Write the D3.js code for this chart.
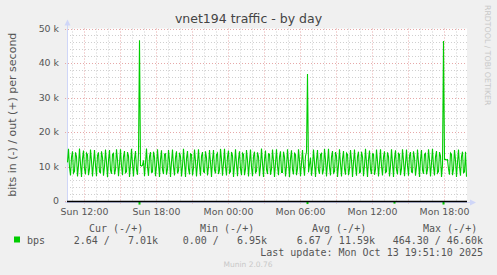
<!DOCTYPE html>
<html>
<head>
<meta charset="utf-8">
<script src="https://cdn.jsdelivr.net/npm/d3@7"></script>
<style>
  html, body { margin: 0; padding: 0; background: #f0f0f0; }
  svg { display: block; font-family: "DejaVu Sans", sans-serif; }
  .mono { font-family: "DejaVu Sans Mono", monospace; white-space: pre; }
</style>
</head>
<body>
<svg id="chart" width="497" height="275"></svg>
<script>
// samples are 5 minutes apart, starting Sun 12 Oct 2025 10:35
const startTime = new Date(2025, 9, 12, 10, 35);
const endTime = new Date(2025, 9, 13, 19, 55);
const stepMinutes = 5;

// out traffic, in kbit/s, one value per sample
const outKbps = [
  11.2, 15.1, 9.8, 7.4, 12.7, 14.4, 8.1, 8.6, 14.1, 12.9, 7.1, 10.3, 15.2, 10.7, 7.0, 12.2, 14.6, 9.3, 7.7, 13.9, 13.4, 7.5, 9.4, 14.9, 11.6, 7.1,
  11.0, 14.8, 10.2, 7.2, 13.1, 14.1, 8.4, 8.2, 14.4, 12.6, 7.3, 10.0, 14.9, 11.1, 6.9, 11.8, 14.8, 9.0, 7.9, 13.5, 13.8, 7.7, 9.1, 15.0, 11.9, 7.2,
  10.8, 15.0, 10.1, 7.5, 12.8, 14.5, 8.2, 8.5, 14.2, 13.0, 7.0, 10.4, 15.1, 10.8, 7.1, 12.1, 14.5, 9.2, 7.6, 13.8, 46.6, 10.3, 10.1, 10.4, 11.8, 7.2,
  11.1, 15.2, 9.9, 7.3, 12.9, 14.2, 8.3, 8.4, 14.3, 12.7, 7.2, 10.2, 15.0, 10.9, 7.0, 12.0, 14.7, 9.1, 7.8, 13.6, 13.7, 7.6, 9.3, 14.8, 11.7, 7.0,
  11.3, 14.9, 10.0, 7.4, 12.6, 14.4, 8.0, 8.7, 14.0, 12.9, 7.1, 10.1, 15.1, 11.0, 6.95, 12.3, 14.5, 9.4, 7.7, 13.7, 13.5, 7.4, 9.5, 14.9, 11.5, 7.1,
  11.0, 15.0, 10.3, 7.3, 13.0, 14.2, 8.5, 8.3, 14.4, 12.5, 7.4, 9.9, 14.8, 11.2, 7.0, 11.9, 14.8, 9.0, 8.0, 13.4, 13.9, 7.8, 9.0, 15.1, 12.0, 7.3,
  10.9, 15.1, 10.0, 7.4, 12.8, 14.6, 8.1, 8.5, 14.2, 13.1, 7.0, 10.3, 15.0, 10.8, 7.2, 12.1, 14.4, 9.3, 7.5, 13.9, 13.5, 7.5, 9.3, 14.8, 11.8, 7.1,
  11.2, 14.9, 9.8, 7.2, 12.9, 14.3, 8.2, 8.6, 14.1, 12.8, 7.2, 10.2, 15.2, 10.9, 7.0, 12.0, 14.6, 9.2, 7.8, 13.7, 13.6, 7.6, 9.2, 14.9, 11.6, 7.0,
  11.1, 15.0, 10.1, 7.5, 12.7, 14.4, 8.3, 8.3, 14.3, 12.7, 7.1, 10.0, 15.0, 11.0, 6.9, 12.2, 14.7, 9.1, 7.7, 13.8, 13.4, 7.5, 9.4, 15.0, 11.7, 7.2,
  10.9, 14.8, 10.2, 7.3, 13.0, 14.2, 36.8, 8.3, 10.5, 12.6, 7.3, 10.1, 14.9, 11.1, 7.0, 11.9, 14.8, 9.0, 7.9, 13.5, 13.8, 7.7, 9.1, 15.1, 11.9, 7.1,
  11.0, 15.1, 9.9, 7.4, 12.8, 14.5, 8.1, 8.5, 14.2, 13.0, 7.0, 10.4, 15.0, 10.7, 7.1, 12.1, 14.5, 9.3, 7.6, 13.9, 13.5, 7.5, 9.3, 14.8, 11.8, 7.0,
  11.2, 14.9, 10.0, 7.3, 12.9, 14.3, 8.2, 8.4, 14.3, 12.8, 7.2, 10.2, 15.1, 10.9, 7.0, 12.0, 14.6, 9.2, 7.8, 13.7, 13.6, 7.6, 9.2, 14.9, 11.6, 7.1,
  11.1, 15.0, 10.1, 7.4, 12.7, 14.4, 8.3, 8.5, 14.1, 12.9, 7.1, 10.1, 15.0, 11.0, 7.0, 12.2, 14.7, 9.1, 7.7, 13.8, 13.5, 7.5, 9.4, 15.0, 11.7, 7.2,
  10.9, 14.9, 10.2, 7.3, 13.0, 14.2, 8.4, 8.3, 14.4, 12.6, 7.3, 10.0, 14.9, 11.1, 7.0, 11.9, 14.8, 9.0, 7.9, 13.5, 13.8, 7.7, 9.1, 15.0, 11.9, 7.1,
  11.0, 15.1, 9.9, 7.4, 12.8, 14.5, 8.1, 8.5, 14.2, 13.0, 7.0, 10.4, 46.4, 12.0, 12.1, 11.9, 12.0, 9.3, 7.6, 13.9, 13.5, 7.5, 9.3, 14.8, 11.8, 7.0,
  11.2, 14.9, 10.0, 7.3, 12.9, 14.3, 8.2, 8.4, 14.3, 7.01
];

// in traffic is ~0 apart from a few blips: [sample index, bit/s]
const inBlips = [[72, 464.3], [240, 310], [327, 180], [376, 450]];

const yTicks = [0, 10000, 20000, 30000, 40000, 50000];
const yTickLabels = ['0', '10 k', '20 k', '30 k', '40 k', '50 k'];

const legendHeaders = ['Cur (-/+)', 'Min (-/+)', 'Avg (-/+)', 'Max (-/+)'];
const legendValues = ['2.64 /   7.01k', '0.00 /   6.95k', '6.67 / 11.59k', '464.30 / 46.60k'];

const fmtTick = d3.timeFormat('%a %H:%M');
const GREEN = '#00cc00';

const svg = d3.select('#chart');
const plot = { left: 67, right: 467, top: 28.5, bottom: 201 };

const x = d3.scaleTime().domain([startTime, endTime]).range([plot.left, plot.right]);
const y = d3.scaleLinear().domain([0, 50000]).range([plot.bottom, plot.top]);
const sampleTime = i => new Date(startTime.getTime() + i * stepMinutes * 60000);

// canvas
svg.append('rect')
  .attr('x', plot.left).attr('y', plot.top)
  .attr('width', plot.right - plot.left).attr('height', plot.bottom - plot.top)
  .attr('fill', '#fff');

// grid: minor then major
const grid = svg.append('g');
const minorY = d3.range(0, 50001, 2000).filter(v => v % 10000 !== 0);
grid.selectAll('.hminor').data(minorY).join('line')
  .attr('x1', plot.left).attr('x2', plot.right)
  .attr('y1', d => Math.round(y(d)) + 0.5).attr('y2', d => Math.round(y(d)) + 0.5)
  .attr('stroke', '#cfcfcf').attr('stroke-dasharray', '1,2');
const hours = x.ticks(d3.timeHour.every(1));
grid.selectAll('.vminor').data(hours.filter(d => d.getHours() % 3 !== 0)).join('line')
  .attr('x1', d => Math.round(x(d)) + 0.5).attr('x2', d => Math.round(x(d)) + 0.5)
  .attr('y1', plot.top).attr('y2', plot.bottom)
  .attr('stroke', '#cfcfcf').attr('stroke-dasharray', '1,2');
grid.selectAll('.hmajor').data(yTicks).join('line')
  .attr('x1', plot.left - 2).attr('x2', plot.right)
  .attr('y1', d => Math.round(y(d)) + 0.5).attr('y2', d => Math.round(y(d)) + 0.5)
  .attr('stroke', '#e6a8a8').attr('stroke-dasharray', '1,2');
grid.selectAll('.vmajor').data(hours.filter(d => d.getHours() % 3 === 0)).join('line')
  .attr('x1', d => Math.round(x(d)) + 0.5).attr('x2', d => Math.round(x(d)) + 0.5)
  .attr('y1', plot.top).attr('y2', plot.bottom + 3)
  .attr('stroke', '#e6a8a8').attr('stroke-dasharray', '1,2');

// axes (rrdtool style, light blue with arrows)
const axisCol = '#cfd6f8';
svg.append('line').attr('x1', plot.left + 0.5).attr('x2', plot.left + 0.5)
  .attr('y1', plot.bottom + 2).attr('y2', plot.top - 6).attr('stroke', axisCol);
svg.append('path').attr('d', `M${plot.left - 2.5},${plot.top - 3}L${plot.left + 0.5},${plot.top - 9}L${plot.left + 3.5},${plot.top - 3}Z`).attr('fill', axisCol);
svg.append('line').attr('x1', plot.left - 2).attr('x2', plot.right + 6)
  .attr('y1', plot.bottom + 1.5).attr('y2', plot.bottom + 1.5).attr('stroke', axisCol);
svg.append('path').attr('d', `M${plot.right + 3},${plot.bottom - 1.5}L${plot.right + 9},${plot.bottom + 1.5}L${plot.right + 3},${plot.bottom + 4.5}Z`).attr('fill', axisCol);

// y tick labels
svg.append('g').selectAll('text').data(yTicks).join('text')
  .attr('x', 59).attr('y', d => y(d) + 3.4)
  .attr('text-anchor', 'end').attr('font-size', 9.4).attr('fill', '#555')
  .text((d, i) => yTickLabels[i]);

// x tick labels every 6 h
svg.append('g').selectAll('text').data(hours.filter(d => d.getHours() % 6 === 0)).join('text')
  .attr('x', d => x(d) + 0.5).attr('y', 215)
  .attr('text-anchor', 'middle').attr('font-size', 9.4).attr('fill', '#555')
  .text(d => fmtTick(d));

// series
const g = svg.append('g');
const line = d3.line().x((d, i) => x(sampleTime(i)) + 0.5).y(d => y(d * 1000));
g.append('path').datum(outKbps).attr('d', line)
  .attr('fill', 'none').attr('stroke', GREEN).attr('stroke-width', 1.1);
g.selectAll('.inb').data(inBlips).join('line')
  .attr('x1', d => x(sampleTime(d[0])) + 0.5).attr('x2', d => x(sampleTime(d[0])) + 0.5)
  .attr('y1', plot.bottom).attr('y2', d => plot.bottom - (y(d[1]) - plot.bottom) + 2)
  .attr('stroke', GREEN).attr('stroke-width', 2);

// zero line
svg.append('line').attr('x1', plot.left).attr('x2', plot.right)
  .attr('y1', y(0) + 0.5).attr('y2', y(0) + 0.5)
  .attr('stroke', '#000').attr('stroke-width', 1.3);

// titles
svg.append('text').attr('x', 248.5).attr('y', 23).attr('text-anchor', 'middle')
  .attr('font-size', 12.5).attr('fill', '#444').text('vnet194 traffic - by day');
svg.append('text').attr('transform', `translate(15.5,${(plot.top + plot.bottom) / 2}) rotate(-90)`)
  .attr('text-anchor', 'middle').attr('font-size', 11).attr('fill', '#555')
  .text('bits in (-) / out (+) per second');
svg.append('text').attr('transform', 'translate(484.5,5) rotate(90)')
  .attr('font-size', 7.8).attr('fill', '#c8c8c8')
  .text('RRDTOOL / TOBI OETIKER');

// legend
svg.append('rect').attr('x', 14).attr('y', 236.5).attr('width', 6).attr('height', 6).attr('fill', GREEN);
svg.append('text').attr('class', 'mono').attr('x', 27).attr('y', 244).attr('font-size', 10).attr('fill', '#555').text('bps');
const headerX = [89, 200, 312, 423];
const valueEnd = [158, 267, 375, 483];
svg.append('g').selectAll('text').data(legendHeaders).join('text')
  .attr('class', 'mono').attr('x', (d, i) => headerX[i]).attr('y', 231.5)
  .attr('font-size', 10).attr('fill', '#555').text(d => d);
svg.append('g').selectAll('text').data(legendValues).join('text')
  .attr('class', 'mono').attr('x', (d, i) => valueEnd[i]).attr('y', 244)
  .attr('text-anchor', 'end').attr('font-size', 10).attr('fill', '#555').text(d => d);
svg.append('text').attr('class', 'mono').attr('x', 483).attr('y', 256)
  .attr('text-anchor', 'end').attr('font-size', 10).attr('fill', '#555')
  .text('Last update: Mon Oct 13 19:51:10 2025');
svg.append('text').attr('x', 248).attr('y', 267).attr('text-anchor', 'middle')
  .attr('font-size', 7.5).attr('fill', '#c8c8c8').text('Munin 2.0.76');
</script>
</body>
</html>
